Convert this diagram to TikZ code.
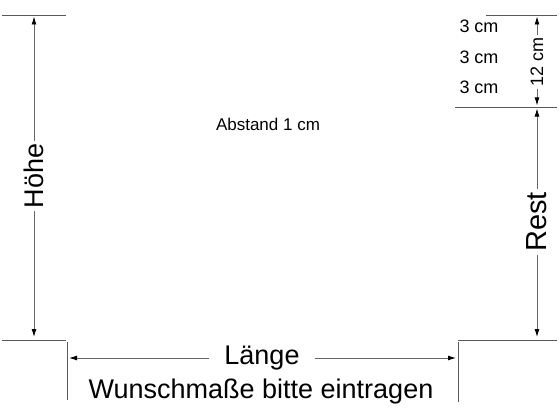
\documentclass[tikz,border=0pt]{standalone}
\usepackage{fontspec}
\setmainfont{Liberation Sans}
\usetikzlibrary{arrows.meta}
\begin{document}
\begin{tikzpicture}[x=1pt,y=-1pt,
  rule/.style={draw=black!65,line width=0.9pt},
  dim/.style={draw=black!60,line width=0.9pt,-{Latex[length=8pt,width=5pt,black]}},
  big/.style={font=\fontsize{27}{30}\selectfont,inner sep=3pt},
  mid/.style={font=\fontsize{18}{20}\selectfont,inner sep=2pt},
  small/.style={font=\fontsize{17}{19}\selectfont,inner sep=0pt}]
\useasboundingbox[fill=white] (0,0) rectangle (560,420);
% reference lines
\coordinate (tl1) at (2,15);   \coordinate (tl2) at (66,15);
\coordinate (bl1) at (2,340);  \coordinate (bl2) at (66,340);
\coordinate (vl1) at (67,342); \coordinate (vl2) at (67,400);
\coordinate (vr1) at (458,342);\coordinate (vr2) at (458,402);
\coordinate (br1) at (458,340);\coordinate (br2) at (557,340);
\coordinate (tr1) at (486,15); \coordinate (tr2) at (557,15);
\coordinate (mr1) at (455,107);\coordinate (mr2) at (557,107);
\draw[rule] (tl1) -- (tl2);
\draw[rule] (bl1) -- (bl2);
\draw[rule] (vl1) -- (vl2);
\draw[rule] (vr1) -- (vr2);
\draw[rule] (br1) -- (br2);
\draw[rule] (tr1) -- (tr2);
\draw[rule] (mr1) -- (mr2);
% Höhe
\node[big,rotate=90] (hoehe) at (34,176) {Höhe};
\coordinate (hT) at (34,16.5); \coordinate (hB) at (34,337);
\draw[dim] (hoehe.east) -- (hT);
\draw[dim] (hoehe.west) -- (hB);
% Länge
\node[big] (laenge) at (262,358) {Länge};
\coordinate (lL) at (69,358); \coordinate (lR) at (456,358);
\draw[dim] ([xshift=-12pt]laenge.west) -- (lL);
\draw[dim] ([xshift=12pt]laenge.east) -- (lR);
\node[big] (wunsch) at (261,392) {Wunschmaße bitte eintragen};
% 12 cm
\node[mid,rotate=90] (zwoelf) at (537,62) {12 cm};
\coordinate (zT) at (537,16.5); \coordinate (zB) at (537,105.5);
\draw[dim] (zwoelf.east) -- (zT);
\draw[dim] (zwoelf.west) -- (zB);
% Rest
\node[big,rotate=90,font=\fontsize{29}{32}\selectfont] (rest) at (537,222) {Rest};
\coordinate (rT) at (537,108.5); \coordinate (rB) at (537,337);
\draw[dim] (rest.east) -- (rT);
\draw[dim] (rest.west) -- (rB);
% 3 cm
\node[mid] (d1) at (479,26) {3 cm};
\node[mid] (d2) at (479,57) {3 cm};
\node[mid] (d3) at (479,87) {3 cm};
% Abstand
\node[small] (abst) at (268,124) {Abstand 1 cm};
\end{tikzpicture}
\end{document}
